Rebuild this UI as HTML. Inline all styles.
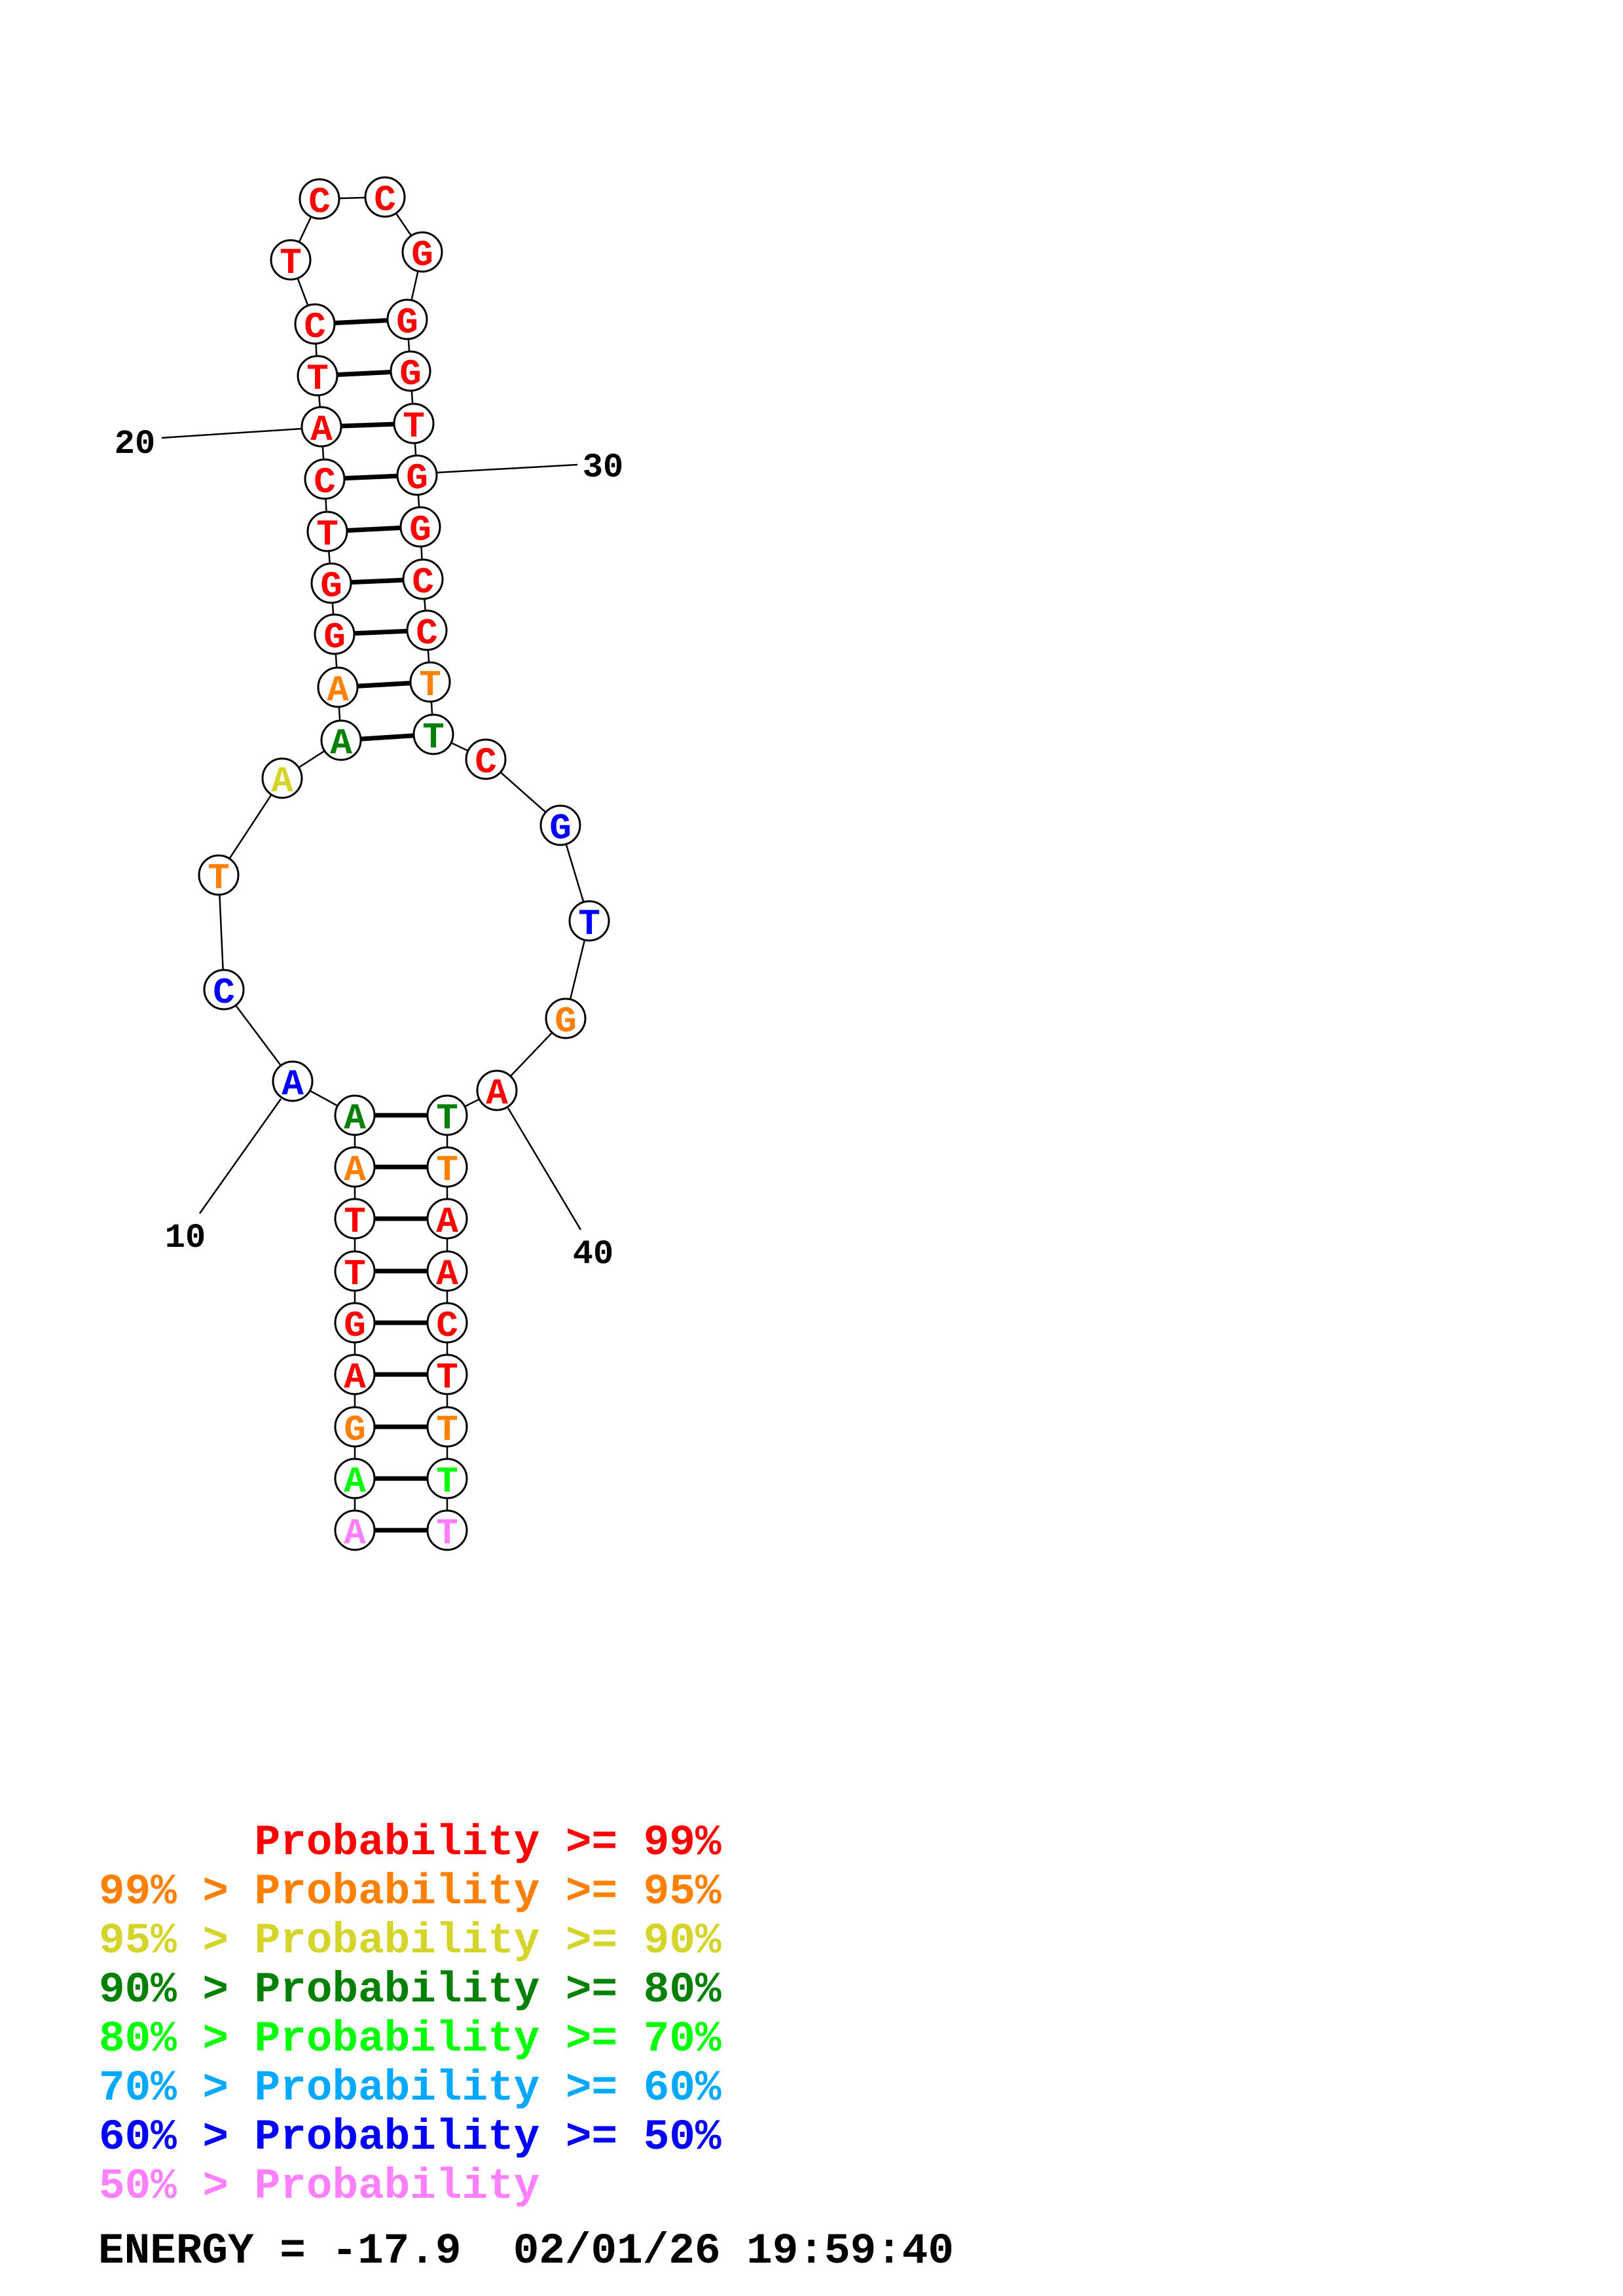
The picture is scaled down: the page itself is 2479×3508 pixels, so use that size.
<!DOCTYPE html>
<html><head><meta charset="utf-8"><style>
html,body{margin:0;padding:0;background:#fff}
svg{display:block}
.n text{font-family:"Liberation Mono",monospace;font-weight:bold;font-size:56px;text-anchor:middle}
.lg{font-family:"Liberation Mono",monospace;font-weight:bold;font-size:66px}
.lg text{white-space:pre}
</style></head><body>
<svg width="2479" height="3508" viewBox="0 0 2479 3508" xmlns="http://www.w3.org/2000/svg">
<rect width="2479" height="3508" fill="#fff"/>
<g stroke="#000" stroke-width="2.5">
<line x1="247" y1="669" x2="461" y2="655"/>
<line x1="668" y1="722" x2="882" y2="710"/>
<line x1="429" y1="1679" x2="305" y2="1854"/>
<line x1="776" y1="1693" x2="887" y2="1879"/>
</g>
<g font-family="Liberation Mono,monospace" font-weight="bold" font-size="52" fill="#000" text-anchor="middle">
<text x="206" y="692">20</text>
<text x="921" y="728">30</text>
<text x="283" y="1905">10</text>
<text x="906" y="1930">40</text>
</g>
<polyline fill="none" stroke="#000" stroke-width="2.5" points="542,2338 542,2259 542,2180 542,2100 542,2021 542,1942 542,1862 542,1783 542,1704 447,1652 342,1512 334,1337 431,1189 521,1131 516,1050 511,969 506,891 500,812 496,732 491,652 485,574 481,495 444,397 488,304 588,301 645,385 622,488 627,567 632,647 637,726 642,805 646,885 652,963 657,1042 662,1122 742,1160 856,1261 900,1407 864,1556 759,1666 683,1704 683,1783 683,1862 683,1942 683,2021 683,2100 683,2180 683,2259 683,2338"/>
<g stroke="#000" stroke-width="7">
<line x1="481" y1="495" x2="622" y2="488"/>
<line x1="485" y1="574" x2="627" y2="567"/>
<line x1="491" y1="652" x2="632" y2="647"/>
<line x1="496" y1="732" x2="637" y2="726"/>
<line x1="500" y1="812" x2="642" y2="805"/>
<line x1="506" y1="891" x2="646" y2="885"/>
<line x1="511" y1="969" x2="652" y2="963"/>
<line x1="516" y1="1050" x2="657" y2="1042"/>
<line x1="521" y1="1131" x2="662" y2="1122"/>
<line x1="542" y1="1704" x2="683" y2="1704"/>
<line x1="542" y1="1783" x2="683" y2="1783"/>
<line x1="542" y1="1862" x2="683" y2="1862"/>
<line x1="542" y1="1942" x2="683" y2="1942"/>
<line x1="542" y1="2021" x2="683" y2="2021"/>
<line x1="542" y1="2100" x2="683" y2="2100"/>
<line x1="542" y1="2180" x2="683" y2="2180"/>
<line x1="542" y1="2259" x2="683" y2="2259"/>
<line x1="542" y1="2338" x2="683" y2="2338"/>
</g>
<g class="n" stroke="#000" stroke-width="3">
<g fill="#fff">
<circle cx="542" cy="2338" r="30"/><circle cx="542" cy="2259" r="30"/><circle cx="542" cy="2180" r="30"/><circle cx="542" cy="2100" r="30"/><circle cx="542" cy="2021" r="30"/><circle cx="542" cy="1942" r="30"/><circle cx="542" cy="1862" r="30"/><circle cx="542" cy="1783" r="30"/><circle cx="542" cy="1704" r="30"/>
<circle cx="447" cy="1652" r="30"/><circle cx="342" cy="1512" r="30"/><circle cx="334" cy="1337" r="30"/><circle cx="431" cy="1189" r="30"/>
<circle cx="521" cy="1131" r="30"/><circle cx="516" cy="1050" r="30"/><circle cx="511" cy="969" r="30"/><circle cx="506" cy="891" r="30"/><circle cx="500" cy="812" r="30"/><circle cx="496" cy="732" r="30"/><circle cx="491" cy="652" r="30"/><circle cx="485" cy="574" r="30"/><circle cx="481" cy="495" r="30"/>
<circle cx="444" cy="397" r="30"/><circle cx="488" cy="304" r="30"/><circle cx="588" cy="301" r="30"/><circle cx="645" cy="385" r="30"/>
<circle cx="622" cy="488" r="30"/><circle cx="627" cy="567" r="30"/><circle cx="632" cy="647" r="30"/><circle cx="637" cy="726" r="30"/><circle cx="642" cy="805" r="30"/><circle cx="646" cy="885" r="30"/><circle cx="652" cy="963" r="30"/><circle cx="657" cy="1042" r="30"/><circle cx="662" cy="1122" r="30"/>
<circle cx="742" cy="1160" r="30"/><circle cx="856" cy="1261" r="30"/><circle cx="900" cy="1407" r="30"/><circle cx="864" cy="1556" r="30"/><circle cx="759" cy="1666" r="30"/>
<circle cx="683" cy="1704" r="30"/><circle cx="683" cy="1783" r="30"/><circle cx="683" cy="1862" r="30"/><circle cx="683" cy="1942" r="30"/><circle cx="683" cy="2021" r="30"/><circle cx="683" cy="2100" r="30"/><circle cx="683" cy="2180" r="30"/><circle cx="683" cy="2259" r="30"/><circle cx="683" cy="2338" r="30"/>
</g>
<g stroke="none">
<text x="542" y="2358" fill="#ff80ff">A</text>
<text x="542" y="2279" fill="#00ff00">A</text>
<text x="542" y="2200" fill="#ff8000">G</text>
<text x="542" y="2120" fill="#ff0000">A</text>
<text x="542" y="2041" fill="#ff0000">G</text>
<text x="542" y="1962" fill="#ff0000">T</text>
<text x="542" y="1882" fill="#ff0000">T</text>
<text x="542" y="1803" fill="#ff8000">A</text>
<text x="542" y="1724" fill="#008000">A</text>
<text x="447" y="1672" fill="#0000ff">A</text>
<text x="342" y="1532" fill="#0000ff">C</text>
<text x="334" y="1357" fill="#ff8000">T</text>
<text x="431" y="1209" fill="#d4d42a">A</text>
<text x="521" y="1151" fill="#008000">A</text>
<text x="516" y="1070" fill="#ff8000">A</text>
<text x="511" y="989" fill="#ff0000">G</text>
<text x="506" y="911" fill="#ff0000">G</text>
<text x="500" y="832" fill="#ff0000">T</text>
<text x="496" y="752" fill="#ff0000">C</text>
<text x="491" y="672" fill="#ff0000">A</text>
<text x="485" y="594" fill="#ff0000">T</text>
<text x="481" y="515" fill="#ff0000">C</text>
<text x="444" y="417" fill="#ff0000">T</text>
<text x="488" y="324" fill="#ff0000">C</text>
<text x="588" y="321" fill="#ff0000">C</text>
<text x="645" y="405" fill="#ff0000">G</text>
<text x="622" y="508" fill="#ff0000">G</text>
<text x="627" y="587" fill="#ff0000">G</text>
<text x="632" y="667" fill="#ff0000">T</text>
<text x="637" y="746" fill="#ff0000">G</text>
<text x="642" y="825" fill="#ff0000">G</text>
<text x="646" y="905" fill="#ff0000">C</text>
<text x="652" y="983" fill="#ff0000">C</text>
<text x="657" y="1062" fill="#ff8000">T</text>
<text x="662" y="1142" fill="#008000">T</text>
<text x="742" y="1180" fill="#ff0000">C</text>
<text x="856" y="1281" fill="#0000ff">G</text>
<text x="900" y="1427" fill="#0000ff">T</text>
<text x="864" y="1576" fill="#ff8000">G</text>
<text x="759" y="1686" fill="#ff0000">A</text>
<text x="683" y="1724" fill="#008000">T</text>
<text x="683" y="1803" fill="#ff8000">T</text>
<text x="683" y="1882" fill="#ff0000">A</text>
<text x="683" y="1962" fill="#ff0000">A</text>
<text x="683" y="2041" fill="#ff0000">C</text>
<text x="683" y="2120" fill="#ff0000">T</text>
<text x="683" y="2200" fill="#ff8000">T</text>
<text x="683" y="2279" fill="#00ff00">T</text>
<text x="683" y="2358" fill="#ff80ff">T</text>
</g>
</g>
<g class="lg">
<text x="151" y="2833" fill="#ff0000">      Probability &gt;= 99%</text>
<text x="151" y="2908" fill="#ff8000">99% &gt; Probability &gt;= 95%</text>
<text x="151" y="2983" fill="#d4d42a">95% &gt; Probability &gt;= 90%</text>
<text x="151" y="3058" fill="#008000">90% &gt; Probability &gt;= 80%</text>
<text x="151" y="3133" fill="#00ff00">80% &gt; Probability &gt;= 70%</text>
<text x="151" y="3208" fill="#00a8ff">70% &gt; Probability &gt;= 60%</text>
<text x="151" y="3283" fill="#0000ff">60% &gt; Probability &gt;= 50%</text>
<text x="151" y="3358" fill="#ff80ff">50% &gt; Probability</text>
<text x="150" y="3457" fill="#000">ENERGY = -17.9  02/01/26 19:59:40</text>
</g>
</svg>
</body></html>
